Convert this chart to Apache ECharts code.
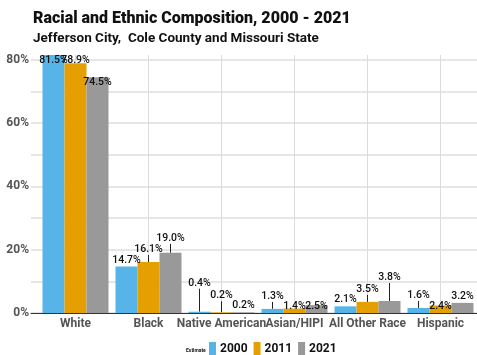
<!DOCTYPE html>
<html>
<head>
<meta charset="utf-8">
<script src="https://cdn.jsdelivr.net/npm/echarts@6/dist/echarts.min.js"></script>
<style>html,body{margin:0;padding:0;background:#fff;}#c{width:477px;height:355px;}</style>
</head>
<body>
<div id="c"></div>
<script>
var categories = ['White', 'Black', 'Native American', 'Asian/HIPI', 'All Other Race', 'Hispanic'];
var years = ['2000', '2011', '2021'];
var v2000 = [81.5, 14.7, 0.4, 1.3, 2.1, 1.6];
var v2011 = [78.9, 16.1, 0.2, 1.4, 3.5, 2.4];
var v2021 = [74.5, 19.0, 0.2, 2.5, 3.8, 3.2];
var yTicks = [0, 20, 40, 60, 80];

var colors = ['#56B4E9', '#E69F00', '#999999'];
var FONT = 'Roboto, sans-serif';
// label vertical shifts (styling) and which labels get leader lines
var lift = [
  [12, 0, -22, -6, 0, -6],
  [4, -6, -10, 4, -6, 7],
  [12, -8, 0, 8, -17, 0]
];
var lines = [
  [0, 0, 1, 1, 0, 1],
  [0, 1, 1, 0, 1, 0],
  [0, 1, 0, 0, 1, 0]
];
var seriesVals = [v2000, v2011, v2021];
var YMAX = 81.5;

var chart = echarts.init(document.getElementById('c'));
var series = seriesVals.map(function (vals, s) {
  return {
    name: years[s],
    type: 'bar',
    xAxisIndex: 1,
    yAxisIndex: 1,
    barWidth: 22,
    barGap: '0%',
    itemStyle: { color: colors[s] },
    label: {
      show: true,
      position: 'top',
      distance: 1,
      fontFamily: FONT,
      fontSize: 10.5,
      fontWeight: 500,
      color: '#111',
      formatter: function (p) { return p.value.toFixed(1) + '%'; }
    },
    labelLine: { show: false, lineStyle: { color: '#222', width: 1 } },
    labelLayout: function (p) { return { dy: lift[s][p.dataIndex] }; },
    data: vals.map(function (v, i) {
      return { value: v, labelLine: { show: !!lines[s][i] } };
    })
  };
});

chart.setOption({
  animation: false,
  title: [
    {
      text: 'Racial and Ethnic Composition, 2000 - 2021',
      left: 28, top: 6,
      textStyle: { fontFamily: FONT, fontSize: 16, fontWeight: 900, color: '#111' },
      subtext: 'Jefferson City,  Cole County and Missouri State',
      subtextStyle: { fontFamily: FONT, fontSize: 13.5, fontWeight: 'bold', color: '#111' },
      itemGap: 5
    },
    {
      text: 'Estimate', left: 181, top: 343,
      textStyle: { fontFamily: FONT, fontSize: 5, fontWeight: 'bold', color: '#111' }
    }
  ],
  legend: {
    left: 204, top: 337,
    itemWidth: 7, itemHeight: 13, itemGap: 6,
    icon: 'rect',
    data: years,
    textStyle: { fontFamily: FONT, fontSize: 12, fontWeight: 'bold', color: '#111', padding: [0, 0, 0, -1] }
  },
  grid: [
    { left: 31, right: 0, top: 55, bottom: 42 },
    { left: 39, right: 0, top: 55, bottom: 42 },
    { left: 75.5, right: 36.5, top: 55, bottom: 42 }
  ],
  xAxis: [
    { gridIndex: 0, type: 'value', min: 0, max: 1, axisLine: { show: true, onZero: false, lineStyle: { color: '#333', width: 1 } }, axisTick: { show: false }, axisLabel: { show: false }, splitLine: { show: false } },
    { gridIndex: 1, type: 'category', data: categories, axisLine: { show: false }, axisTick: { show: false },
      axisLabel: { margin: 5, fontFamily: FONT, fontSize: 12, fontWeight: 'bold', color: '#555', interval: 0 }, splitLine: { show: false } },
    { gridIndex: 2, type: 'value', min: 0, max: 5, interval: 1, axisLine: { show: false }, axisTick: { show: false }, axisLabel: { show: false },
      splitLine: { show: true, lineStyle: { color: '#dcdcdc', width: 1 } } }
  ],
  yAxis: [
    { gridIndex: 0, type: 'value', min: 0, max: YMAX, interval: 10,
      axisLine: { show: false }, axisTick: { show: false },
      axisLabel: { margin: 2, fontFamily: FONT, fontSize: 12, fontWeight: 'bold', color: '#555',
        formatter: function (v) { return yTicks.indexOf(v) >= 0 ? v + '%' : ''; } },
      splitLine: { show: true, showMaxLine: false, lineStyle: { color: '#e6e6e6', width: 2 } } },
    { gridIndex: 1, type: 'value', min: 0, max: YMAX, show: false, splitLine: { show: false } },
    { gridIndex: 2, type: 'value', min: 0, max: 1, show: false, splitLine: { show: false } }
  ],
  series: series
});
</script>
</body>
</html>
